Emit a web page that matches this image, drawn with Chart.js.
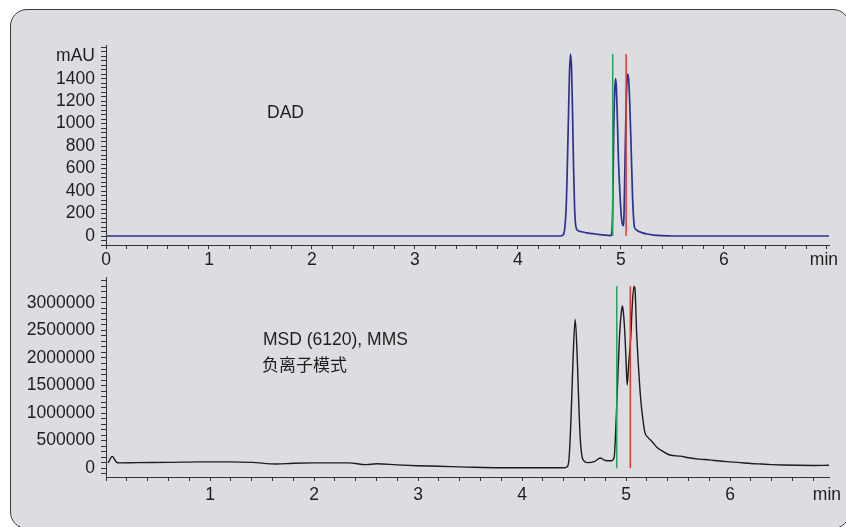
<!DOCTYPE html>
<html>
<head>
<meta charset="utf-8">
<script src="https://cdn.jsdelivr.net/npm/chart.js@4.4.1/dist/chart.umd.min.js"></script>
<style>
    html, body {
        margin: 0;
        padding: 0;
        width: 846px;
        height: 527px;
        overflow: hidden;
        background: #ffffff;
    }
    .panel {
        position: absolute;
        left: 10px;
        top: 9px;
        width: 840px;
        height: 520px;
        box-sizing: border-box;
        background: #dcdde0;
        border: 1.5px solid #3c3c3c;
        border-radius: 17px;
    }
    canvas {
        position: absolute;
        left: 0;
    }
    #dad-chart { top: 0; }
    #msd-chart { top: 250px; }
    .note {
        position: absolute;
        font-family: 'Liberation Sans', Arial, sans-serif;
        font-size: 17.5px;
        line-height: 20px;
        color: #1e1e1e;
        white-space: nowrap;
    }
    .note.cjk {
        font-family: 'Noto Sans CJK SC', sans-serif;
        font-size: 17px;
    }
</style>
</head>
<body>
<div class="panel"></div>
<canvas id="dad-chart" width="846" height="270"></canvas>
<canvas id="msd-chart" width="846" height="277"></canvas>
<div class="note" style="left:267px; top:102px;">DAD</div>
<div class="note" style="left:263px; top:329px;">MSD (6120), MMS</div>
<div class="note cjk" style="left:262px; top:354px;">负离子模式</div>

<script>
// DAD 色谱（时间 min / 吸收 mAU）
const dadTime = [
    0, 1, 2, 3, 4, 4.40, 4.43, 4.45, 4.47, 4.48,
    4.49, 4.50, 4.51, 4.52, 4.53, 4.54, 4.55, 4.56, 4.58, 4.62,
    4.67, 4.75, 4.82, 4.88, 4.90, 4.91, 4.92, 4.93, 4.94, 4.948,
    4.955, 4.965, 4.975, 4.99, 5.005, 5.02, 5.03, 5.04, 5.05, 5.06,
    5.068, 5.078, 5.09, 5.10, 5.11, 5.12, 5.13, 5.15, 5.17, 5.21,
    5.25, 5.32, 5.40, 5.50, 6, 7.02
];
const dadSignal = [
    0, 0, 0, 0, 0, 0, 5, 40, 300, 650,
    1050, 1450, 1620, 1500, 1100, 600, 250, 100, 50, 38,
    28, 18, 10, 5, 3, 20, 250, 950, 1300, 1400,
    1330, 1050, 700, 380, 160, 90, 200, 700, 1150, 1400,
    1440, 1350, 1050, 750, 420, 200, 85, 55, 42, 28,
    18, 8, 3, 0, 0, 0
];

// MSD 总离子流（时间 min / 丰度）
const msdTime = [
    0.02, 0.06, 0.10, 0.13, 0.30, 0.60, 0.90, 1.19, 1.40, 1.64,
    1.80, 1.99, 2.33, 2.50, 2.60, 2.80, 2.99, 3.20, 3.47, 3.79,
    4.10, 4.41, 4.43, 4.45, 4.47, 4.49, 4.51, 4.53, 4.545, 4.56,
    4.575, 4.59, 4.63, 4.70, 4.75, 4.80, 4.86, 4.885, 4.90, 4.915,
    4.935, 4.955, 4.965, 4.975, 4.99, 5.00, 5.01, 5.025, 5.045, 5.06,
    5.075, 5.085, 5.10, 5.12, 5.14, 5.16, 5.18, 5.21, 5.25, 5.30,
    5.35, 5.42, 5.52, 5.60, 5.70, 5.80, 5.90, 6.00, 6.10, 6.20,
    6.30, 6.40, 6.50, 6.65, 6.80, 6.95
];
const msdSignal = [
    95000, 215000, 110000, 96000, 100000, 105000, 115000, 115000, 105000, 75000,
    90000, 96000, 96000, 65000, 80000, 60000, 45000, 35000, 20000, 8000,
    8000, 8000, 20000, 150000, 900000, 2000000, 2700000, 2000000, 1150000, 500000,
    220000, 140000, 100000, 125000, 185000, 140000, 135000, 200000, 700000, 1400000,
    2350000, 2850000, 2945000, 2800000, 2350000, 1900000, 1510000, 1900000, 2400000, 3000000,
    3300000, 3250000, 2500000, 1800000, 1250000, 900000, 650000, 560000, 480000, 370000,
    310000, 240000, 218000, 190000, 165000, 150000, 130000, 115000, 100000, 85000,
    75000, 65000, 58000, 52000, 50000, 52000
];

// 标记线（绿 / 红）
const dadMarkerTimes = [4.92, 5.05];
const dadMarkerTop = 1620;
const msdMarkerTimes = [4.91, 5.04];
const msdMarkerTop = 3300000;

// 刻度文字
const dadTimeLabels = [0, 1, 2, 3, 4, 5, 6];
const msdTimeLabels = [1, 2, 3, 4, 5, 6];
const dadYLabels = [0, 200, 400, 600, 800, 1000, 1200, 1400];
const dadUnitValue = 1600;
const msdYLabels = [0, 500000, 1000000, 1500000, 2000000, 2500000, 3000000];

const FONT = "'Liberation Sans', Arial, sans-serif";
const AXIS_COLOR = '#333333';
const MARKER_COLORS = ['#22a35a', '#e8332d'];

Chart.defaults.font.family = FONT;
Chart.defaults.font.size = 17.5;
Chart.defaults.color = '#1e1e1e';

// 坐标轴右端的 "min"
const unitLabelPlugin = {
    id: 'unitLabel',
    afterDraw(chart, args, opts) {
        const xs = chart.scales.x;
        const ctx = chart.ctx;
        ctx.save();
        ctx.font = `17.5px ${FONT}`;
        ctx.fillStyle = '#1e1e1e';
        ctx.textAlign = 'right';
        ctx.textBaseline = 'middle';
        ctx.fillText(opts.text, xs.right + opts.dx, xs.top + opts.dy);
        ctx.restore();
    }
};

function hasValue(list, value) {
    return list.some(v => Math.abs(v - value) < 1e-6);
}

// 按步长生成刻度（包括小刻度），不让 Chart.js 自己去凑间距
function stepTicks(step) {
    return scale => {
        const ticks = [];
        const first = Math.ceil(scale.min / step - 1e-9);
        const last = Math.floor(scale.max / step + 1e-9);
        for (let i = first; i <= last; i++) {
            ticks.push({ value: Math.round(i * step * 1e6) / 1e6 });
        }
        scale.ticks = ticks;
    };
}

class ChromatogramPage {
    constructor() {
        this.dadChart = null;
        this.msdChart = null;
        this.init();
    }

    init() {
        this.dadChart = this.buildChart('dad-chart', {
            time: dadTime,
            signal: dadSignal,
            lineColor: '#2e3192',
            lineWidth: 1.7,
            markers: dadMarkerTimes,
            markerTop: dadMarkerTop,
            padTop: 45,
            xMax: 7.02,
            xHeight: 25,
            xPad: 1,
            yMin: -80,
            yMax: 1700,
            yStep: 40,
            xLabel: v => hasValue(dadTimeLabels, v) ? String(Math.round(v)) : '',
            yLabel: v => {
                if (hasValue([dadUnitValue], v)) return 'mAU';
                return hasValue(dadYLabels, v) ? String(Math.round(v)) : '';
            },
            unitDy: 15.5,
            unitDx: 9
        });

        this.msdChart = this.buildChart('msd-chart', {
            time: msdTime,
            signal: msdSignal,
            lineColor: '#1c1c1c',
            lineWidth: 1.4,
            markers: msdMarkerTimes,
            markerTop: msdMarkerTop,
            padTop: 27,
            xMax: 6.95,
            xHeight: 50,
            xPad: 4,
            yMin: -160000,
            yMax: 3470000,
            yStep: 100000,
            xLabel: v => hasValue(msdTimeLabels, v) ? String(Math.round(v)) : '',
            yLabel: v => hasValue(msdYLabels, v) ? String(Math.round(v)) : '',
            unitDy: 18.5,
            unitDx: 12
        });
    }

    buildChart(canvasId, cfg) {
        const ctx = document.getElementById(canvasId).getContext('2d');

        // 标记线放在前面，画在曲线上层
        const markerSets = cfg.markers.map((t, i) => ({
            data: [{ x: t, y: 0 }, { x: t, y: cfg.markerTop }],
            borderColor: MARKER_COLORS[i],
            borderWidth: 1.5,
            pointRadius: 0
        }));

        const traceSet = {
            data: cfg.time.map((t, i) => ({ x: t, y: cfg.signal[i] })),
            borderColor: cfg.lineColor,
            borderWidth: cfg.lineWidth,
            pointRadius: 0,
            cubicInterpolationMode: 'monotone'
        };

        return new Chart(ctx, {
            type: 'line',
            data: { datasets: [...markerSets, traceSet] },
            options: {
                responsive: false,
                animation: false,
                layout: { padding: { top: cfg.padTop, right: 17, left: 0, bottom: 0 } },
                plugins: {
                    legend: { display: false },
                    tooltip: { enabled: false },
                    unitLabel: { text: 'min', dx: cfg.unitDx, dy: cfg.unitDy }
                },
                scales: {
                    x: {
                        type: 'linear',
                        min: 0,
                        max: cfg.xMax,
                        border: { display: true, color: AXIS_COLOR, width: 1 },
                        grid: { drawOnChartArea: false, tickLength: 4, tickColor: AXIS_COLOR },
                        ticks: {
                            autoSkip: false,
                            maxRotation: 0,
                            padding: cfg.xPad,
                            callback: cfg.xLabel
                        },
                        afterBuildTicks: stepTicks(0.2),
                        afterFit(scale) { scale.height = cfg.xHeight; }
                    },
                    y: {
                        type: 'linear',
                        min: cfg.yMin,
                        max: cfg.yMax,
                        border: { display: true, color: AXIS_COLOR, width: 1 },
                        grid: { drawOnChartArea: false, tickLength: 5, tickColor: AXIS_COLOR },
                        ticks: {
                            autoSkip: false,
                            padding: 6,
                            callback: cfg.yLabel
                        },
                        afterBuildTicks: stepTicks(cfg.yStep),
                        afterFit(scale) { scale.width = 106; }
                    }
                }
            },
            plugins: [unitLabelPlugin]
        });
    }
}

new ChromatogramPage();
</script>
</body>
</html>
